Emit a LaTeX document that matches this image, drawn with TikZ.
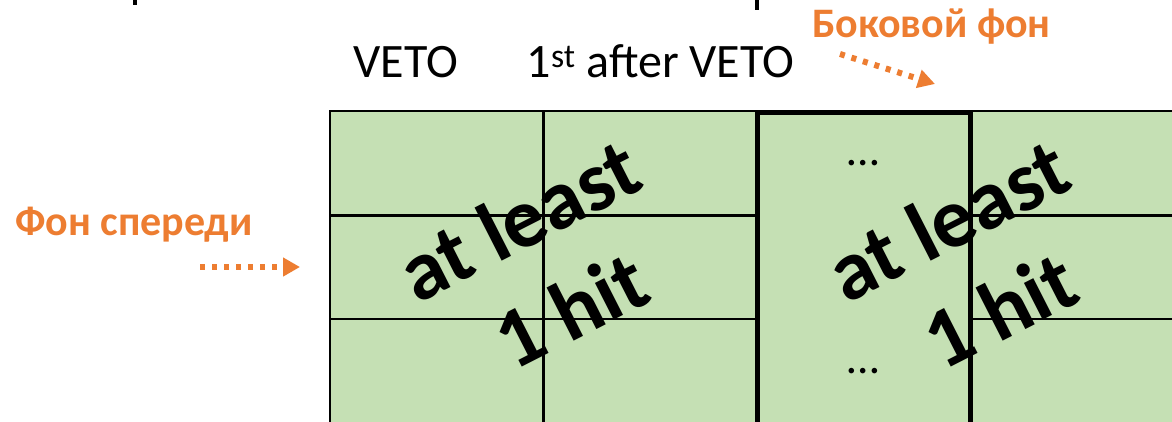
\documentclass[tikz,border=0pt]{standalone}
\usepackage{fontspec}
\setmainfont{Carlito}
\usetikzlibrary{arrows.meta}
\definecolor{cellgreen}{HTML}{C5E0B4}
\definecolor{accent}{HTML}{ED7D31}
\begin{document}
\begin{tikzpicture}[x=1pt,y=-1pt,
  thinline/.style={line width=2.6pt, black},
  thickline/.style={line width=5pt, black},
  hdr/.style={font=\fontsize{48}{58}\selectfont, inner sep=0pt, anchor=base},
  lbl/.style={font=\bfseries\fontsize{42}{50}\selectfont, text=accent, inner sep=0pt, anchor=base},
  big/.style={font=\bfseries\fontsize{85}{100}\selectfont, inner sep=0pt, anchor=base, rotate=27},
  ell/.style={font=\fontsize{46}{55}\selectfont, inner sep=0pt},
  hint/.style={accent, line width=6pt, dash pattern=on 5pt off 7pt, -{Triangle[length=17pt,width=18pt]}}]
\clip (0,0) rectangle (1172,421);
\fill[white] (0,0) rectangle (1172,421);
% cut-off fragments at top
\fill[black] (133,0) rectangle (137,5);
\fill[black] (755,0) rectangle (759,10);
% grid
\fill[cellgreen] (330,111) rectangle (1190,440);
\draw[thinline] (330,440) -- (330,111) -- (757,111);
\draw[thinline] (970,111) -- (1190,111);
\draw[thinline] (330,215.5) -- (757,215.5);
\draw[thinline] (330,319) -- (757,319);
\draw[thinline] (970,215.5) -- (1190,215.5);
\draw[thinline] (970,319) -- (1190,319);
\draw[thinline] (543.5,111) -- (543.5,440);
\draw[thickline] (757,440) -- (757,112) -- (970,112) -- (970,440);
% headers
\node[hdr] (veto) at (406,77) {VETO};
\node[hdr] (first) at (660.5,77) {1\textsuperscript{st} after VETO};
% dots
\node[ell] (dtop) at (863,163) {…};
\node[ell] (dbot) at (863,371) {…};
% big rotated text
\node[big] (al1) at (532,246) {at least};
\node[big] (h1) at (584,336) {1 hit};
\node[big] (al2) at (961,246) {at least};
\node[big] (h2) at (1013,336) {1 hit};
% orange labels
\node[lbl] (side) at (931.5,37) {Боковой фон};
\node[lbl] (front) at (134,235) {Фон спереди};
\coordinate (s1) at (840,54);
\coordinate (e1) at (935,84);
\coordinate (s2) at (200,267);
\coordinate (e2) at (300,267);
\draw[hint] (s1) -- (e1);
\draw[hint] (s2) -- (e2);
\end{tikzpicture}
\end{document}
